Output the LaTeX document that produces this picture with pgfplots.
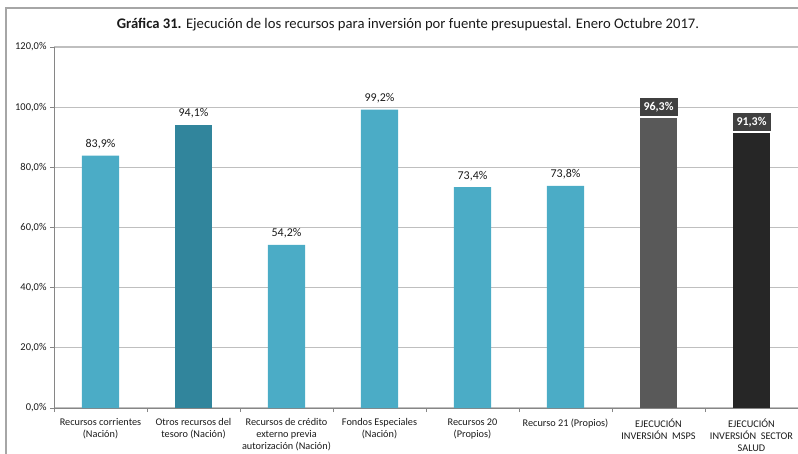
\documentclass[border=0pt]{standalone}
\usepackage{fontspec}
\setmainfont{Carlito}
\usepackage{pgfplots}
\pgfplotsset{compat=1.18}
\definecolor{barblue}{HTML}{4BACC6}
\definecolor{barteal}{HTML}{31859C}
\definecolor{bargray}{HTML}{595959}
\definecolor{barblack}{HTML}{262626}
\definecolor{labbox}{HTML}{404040}
\definecolor{gridgray}{HTML}{BFBFBF}
\definecolor{axgray}{HTML}{868686}
\definecolor{txt}{HTML}{1A1A1A}

\begin{document}
\begin{tikzpicture}
\useasboundingbox (0,0) rectangle (798bp,-454bp);
% outer frame (only top and left visible)
\draw[color=gray!70, line width=1.2bp] (6bp,-454bp) -- (6bp,-8bp) -- (798bp,-8bp);
\node[font=\fontsize{14.7}{16}\selectfont, text=txt] at (408bp,-25bp)
  {\textbf{Gráfica 31.} Ejecución de los recursos para inversión por fuente presupuestal. Enero Octubre 2017.};
\begin{axis}[
  at={(54bp,-408bp)}, anchor=south west,
  scale only axis,
  width=744bp, height=361bp,
  ybar, bar width=0.4,
  xmin=-0.5, xmax=7.5,
  ymin=0, ymax=120,
  axis lines*=left,
  axis line style={axgray, line width=0.8bp},
  ytick={0,20,...,120},
  yticklabel={\pgfmathprintnumber[fixed,fixed zerofill,precision=1,use comma]{\tick}\%},
  /pgf/number format/assume math mode=true,
  yticklabel style={font=\fontsize{10.5}{12}\selectfont, text=txt},
  ymajorgrids,
  grid style={gridgray, line width=1.3bp},
  xtick={0,...,7},
  major x tick style={draw=none},
  minor xtick={-0.5,0.5,...,7.5},
  tick style={axgray, line width=0.8bp},
  major tick length=4bp, minor tick length=4bp,
  tick align=outside,
  xticklabels={{Recursos corrientes\\(Nación)},{Otros recursos del\\tesoro (Nación)},{Recursos de crédito\\externo previa\\autorización (Nación)},{Fondos Especiales\\(Nación)},{Recursos 20\\(Propios)},{Recurso 21 (Propios)},{EJECUCIÓN\\INVERSIÓN\ \ MSPS},{EJECUCIÓN\\INVERSIÓN\ \ SECTOR\\SALUD}},
  xticklabel style={align=center, font=\fontsize{10.3}{12.2}\selectfont, text=txt, yshift=-3bp},
  nodes near coords={\pgfmathprintnumber[fixed,fixed zerofill,precision=1,use comma]{\pgfplotspointmeta}\%},
  every node near coord/.append style={font=\fontsize{12}{14}\selectfont, text=txt, yshift=3bp},
  clip=false,
]
\addplot[fill=barblue, draw=none, bar shift=0pt] coordinates {(0,83.9) (2,54.2) (3,99.2) (4,73.4) (5,73.8)};
\addplot[fill=barteal, draw=none, bar shift=0pt] coordinates {(1,94.1)};
\addplot[fill=bargray, draw=none, bar shift=0pt,
  every node near coord/.append style={fill=labbox, text=white, font=\fontsize{12}{14}\selectfont\bfseries, minimum width=38bp, minimum height=18bp, inner sep=1bp, yshift=-1bp}]
  coordinates {(6,96.3)};
\addplot[fill=barblack, draw=none, bar shift=0pt,
  every node near coord/.append style={fill=labbox, text=white, font=\fontsize{12}{14}\selectfont\bfseries, minimum width=38bp, minimum height=18bp, inner sep=1bp, yshift=-1bp}]
  coordinates {(7,91.3)};
\end{axis}
\end{tikzpicture}
\end{document}
